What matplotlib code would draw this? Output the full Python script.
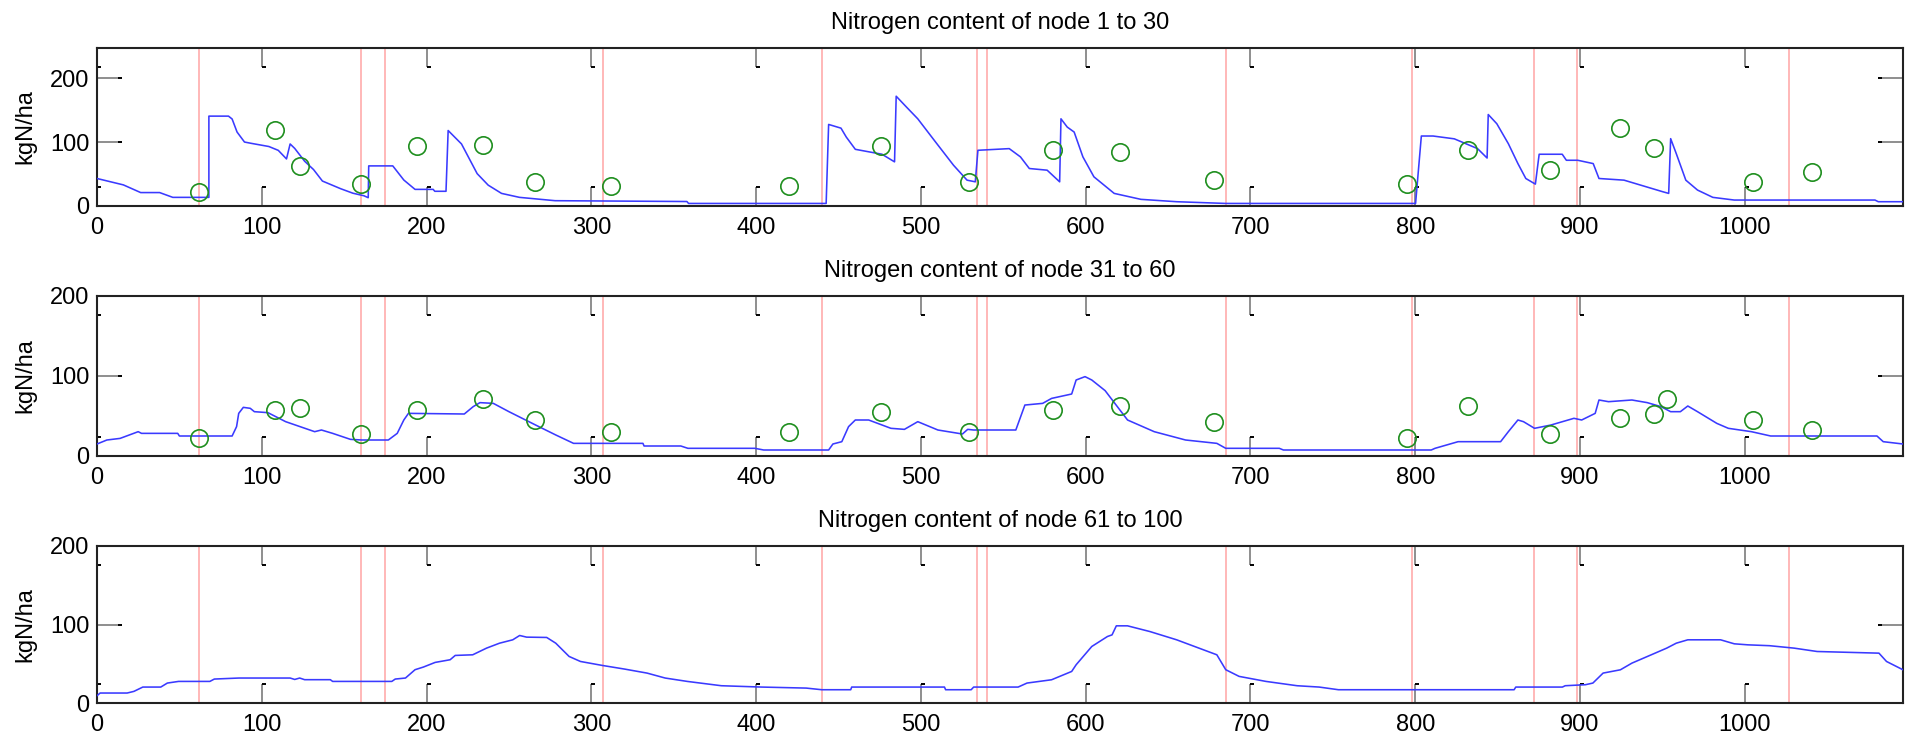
import matplotlib
matplotlib.use('Agg')
import matplotlib.pyplot as plt
from matplotlib.path import Path
from matplotlib.transforms import blended_transform_factory, ScaledTranslation

plt.rcParams['font.family'] = ['Liberation Sans', 'DejaVu Sans']
plt.rcParams['font.size'] = 17

# fertiliser / management events [day]
events = [62, 160, 175, 307, 440, 534, 540, 685, 798, 872, 898, 1027]

# simulated nitrogen, node 1 to 30 [day, kgN/ha]
day_a = [0, 8, 16, 26.5, 38, 46, 67.9, 67.9, 79.8, 82, 85, 89.5, 93.5, 104.3, 110, 115,
         117.2, 120, 126, 131.4, 136.8, 147.9, 155.3, 162, 164.6, 164.9, 179.5, 186.2,
         193, 204, 205, 211.8, 213.1, 221.2, 230.7, 237.4, 245.5, 256.4, 278, 358, 359,
         442.5, 444, 451.5, 454.7, 460.2, 476.4, 484, 485, 491.3, 498.1, 508.9, 519.8,
         528, 533, 534.6, 553.6, 560.4, 565.8, 576.6, 584.2, 585, 588.8, 593, 598.3, 605,
         617.3, 633.5, 655.2, 685, 800.2, 803.7, 810.8, 823.7, 837.8, 843.6, 844.3, 849.5,
         856.5, 862.3, 867.1, 872.9, 875.2, 889.2, 891.7, 898.6, 908, 911.5, 926.7, 950.2,
         953.8, 955, 958.4, 964.2, 971.3, 980.6, 993.6, 1079, 1081, 1096]
n_a = [43, 38, 33, 21, 21, 13.5, 13.5, 140.5, 140.5, 136, 115.6, 100, 98, 93, 87, 73.6,
       97, 90, 70, 57, 39, 27, 20, 16, 13, 62.7, 62.7, 40.6,
       26, 26, 23, 23, 118, 97, 50.6, 32.6, 19.7, 13.5, 8.3, 7, 4,
       4, 127.5, 121.7, 107.8, 88.6, 80.9, 69, 171.6, 154.5, 136.3, 100, 63.7,
       40.4, 37.8, 87.1, 89.7, 76.8, 58.6, 56, 37.8, 136.3, 123.4, 115.6, 76.8, 45.6,
       19.7, 10.4, 6.7, 4, 4, 109.4, 109.4, 105, 89.7, 75, 143, 128.6,
       97.4, 66.3, 43, 34.2, 80.9, 80.9, 71.5, 71.5, 66.3, 43, 40.4, 22.3,
       19.7, 105.3, 81.9, 40.4, 24.9, 13.5, 9.3, 9.3, 6.7, 6.7]

# simulated nitrogen, node 31 to 60
day_b = [0, 6, 14, 25, 27, 49, 50, 82, 84.7, 86, 88.8, 93, 95.5, 103.7, 114.5, 132.1,
         136.2, 143, 153.8, 160.6, 176.8, 182.2, 186.2, 189, 222.9, 228.3, 232.4, 240.5,
         250, 266.2, 278.4, 289.2, 331.3, 332, 354.3, 358.6, 399.2, 404.6, 444, 446.6,
         452, 456.1, 460.2, 468.3, 481.8, 490, 498.1, 510.3, 525.2, 528.4, 532, 557.6,
         563.1, 573.9, 579.3, 591.5, 594.2, 599.6, 603.7, 611.8, 625.4, 641.6, 660.6,
         679.6, 685, 717.5, 720, 809.7, 812, 826, 851.8, 856.5, 862.3, 865.7, 872.4,
         882.3, 889.3, 896.3, 901, 909.2, 911.5, 917.3, 931.5, 940.8, 949.1, 955, 960.9,
         965.4, 971.3, 983, 990, 1004, 1015.7, 1080.2, 1084, 1096]
n_b = [15, 20, 22, 30.4, 28.3, 28.3, 25, 25, 36.7, 53.3, 60.8, 59.6, 55.4, 54.2, 42.9, 30.4,
       32.5, 28.3, 20.8, 20, 20, 28.3, 45, 53.3, 52.5, 61.7, 66.7, 65.8,
       55.4, 38.7, 26.3, 15.8, 15.8, 12.5, 12.5, 9.6, 9.6, 7.5, 7.5, 15,
       17.9, 36.7, 45, 45, 34.6, 33.3, 42.9, 32.5, 27.5, 33.3, 32.5, 32.5,
       63.7, 65.8, 72, 77.5, 95, 99.2, 95, 81.7, 45, 30.4, 20,
       15.8, 9.6, 9.6, 7.5, 7.5, 9.6, 17.9, 17.9, 30.4, 45, 42.9, 34.6,
       38.7, 42.9, 47.1, 45, 53.3, 70, 67.9, 70, 66.7, 61.7, 55.4, 55.4,
       62.5, 55.4, 40.8, 34.6, 30.4, 25, 25, 17.9, 15]

# simulated nitrogen, node 61 to 100
day_c = [0, 1.9, 18.3, 22.4, 27.8, 38.7, 42.7, 49.5, 68.5, 71.2, 86.1, 117.2, 120, 123,
         126, 141.6, 143, 178.9, 181, 187.2, 193, 198.1, 205.2, 214.3, 217.4, 228, 236.4,
         244.3, 252.3, 256.5, 260.7, 272.9, 278.4, 286.5, 293.4, 306.8, 320.2, 333.8,
         344.8, 358.2, 378.9, 403.3, 430.4, 439.9, 457.4, 458, 514.3, 515, 530.5, 532,
         559, 564.4, 579.3, 591.5, 594.2, 603.7, 613.2, 616, 618.6, 625.4, 639, 655.2,
         679.6, 685, 693.1, 709.4, 728.3, 741.7, 753.4, 860, 861, 889.3, 891, 903.3,
         907.8, 914, 924.5, 931.5, 940.9, 952.6, 958.4, 965.4, 985.3, 993.6, 1001.8,
         1015, 1029.9, 1043.9, 1081.4, 1086, 1096]
n_c = [9.3, 12.7, 12.7, 14.8, 20.3, 20.3, 25.4, 27.5, 27.5, 30.5, 31.8, 31.8, 30, 31.8,
       29.7, 29.7, 27.5, 27.5, 30.5, 31.8, 42.4, 45.8, 51.7, 55.1, 60.6, 61.4, 69.9,
       76.2, 80.5, 86, 83.9, 83.5, 76.2, 59.3, 52.9, 47.8, 43.2, 38.1,
       31.8, 27.5, 22, 20.3, 19, 16.9, 16.9, 20.3, 20.3, 16.9, 16.9, 20.3,
       20.3, 25.4, 29.6, 40.2, 48.7, 72, 84.7, 86.8, 98.3, 98.3, 91, 80.5,
       61.4, 42.4, 33.9, 27.5, 22, 20.3, 16.9, 16.9, 20.3, 20.3, 22, 23.3,
       25.4, 38.1, 42.3, 50.8, 59.3, 69.9, 76.2, 80.5, 80.5, 75.4, 74.1,
       73, 69.9, 65.6, 63.5, 52.9, 42.3]

# measurements
obs_day_a = [62, 108, 123, 160, 194, 234, 266, 312, 420, 476, 529, 580, 621, 678,
             795, 832, 882, 924, 945, 1005, 1041]
obs_n_a = [22, 119, 62, 35, 94, 96, 38, 32, 32, 94, 37, 88, 84, 41,
           35, 87, 57, 122, 90, 38, 53]
obs_day_b = [62, 108, 123, 160, 194, 234, 266, 312, 420, 476, 529, 580, 621, 678,
             795, 832, 882, 924, 945, 953, 1005, 1041]
obs_n_b = [23, 58, 60, 28, 58, 71, 45, 30, 30, 55, 30, 58, 63, 43,
           23, 63, 28, 48, 53, 71, 45, 33]

titles = ['Nitrogen content of node 1 to 30',
          'Nitrogen content of node 31 to 60',
          'Nitrogen content of node 61 to 100']
xticks = list(range(0, 1001, 100))
yticks = [0, 100, 200]
XMAX = 1096
XTL = 13.5  # x tick length [pt]
YTL = 15.0  # y tick length [pt]

fig = plt.figure(figsize=(19.05, 7.4), dpi=100)
W, H = 1905.0, 740.0
boxes = [(48, 206), (296, 456), (546, 703)]  # top/bottom of each panel [px]
ylims = [247, 200, 200]
lines = [(day_a, n_a), (day_b, n_b), (day_c, n_c)]
obs = [(obs_day_a, obs_n_a), (obs_day_b, obs_n_b), None]

stub_r = Path([(0, 0), (1, 0)])
stub_l = Path([(0, 0), (-1, 0)])


def add_hooks(ax):
    # small black hooks at the tips of the inward ticks
    bx = blended_transform_factory(ax.transData, ax.transAxes)
    by = blended_transform_factory(ax.transAxes, ax.transData)
    kw = dict(ls='none', mec='k', mew=1.4, ms=6, clip_on=False)
    for yf, s in ((0, 1), (1, -1)):
        off = ScaledTranslation(0, s * XTL / 72, fig.dpi_scale_trans)
        ax.plot(xticks, [yf] * len(xticks), marker=stub_r, transform=bx + off, **kw)
    for xf, s, m in ((0, 1, stub_r), (1, -1, stub_l)):
        off = ScaledTranslation(s * YTL / 72, 0, fig.dpi_scale_trans)
        ax.plot([xf] * len(yticks), yticks, marker=m, transform=by + off, **kw)


for i in range(3):
    top, bot = boxes[i]
    ax = fig.add_axes([97 / W, 1 - bot / H, 1806 / W, (bot - top) / H])
    for d in events:
        ax.axvline(d, color='#ffacac', lw=1.2, zorder=1)
    ax.plot(lines[i][0], lines[i][1], color='#3a3aff', lw=1.15, zorder=3)
    if obs[i] is not None:
        ax.plot(obs[i][0], obs[i][1], 'o', mfc='none', mec='#1f8f1f', ms=12.5,
                mew=1.2, zorder=4)
    ax.set_xticks(xticks)
    ax.set_yticks(yticks)
    ax.tick_params(axis='x', direction='in', top=True, length=XTL, width=1.1,
                   color='#707070', pad=8, labelsize=17)
    ax.tick_params(axis='y', direction='in', right=True, length=YTL, width=1.1,
                   color='#707070', pad=5.5, labelsize=17)
    for sp in ax.spines.values():
        sp.set_linewidth(1.5)
        sp.set_color('#222222')
    add_hooks(ax)
    ax.set_xlim(0, XMAX)
    ax.set_ylim(0, ylims[i])
    ax.set_title(titles[i], fontsize=17, pad=14)
    ax.set_ylabel('kgN/ha', fontsize=17, labelpad=10)

fig.savefig('out.png', dpi=100)
